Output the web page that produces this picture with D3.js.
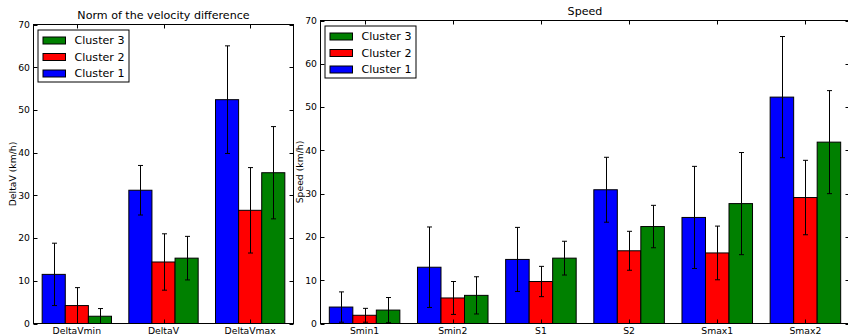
<!DOCTYPE html>
<html>
<head>
<meta charset="utf-8">
<script src="https://cdn.jsdelivr.net/npm/d3@7"></script>
<style>
  html, body { margin: 0; padding: 0; background: #fff; }
  svg { display: block; font-family: "DejaVu Sans", sans-serif; }
</style>
</head>
<body>
<svg id="chart" width="848" height="336"></svg>
<script>
// ---- data ----
const clusterNames = ["Cluster 1", "Cluster 2", "Cluster 3"];
const clusterColors = ["#0000ff", "#ff0000", "#008000"];
const yTicks = [0, 10, 20, 30, 40, 50, 60, 70];

const deltaCategories = ["DeltaVmin", "DeltaV", "DeltaVmax"];
const deltaMean1 = [11.5, 31.2, 52.4];
const deltaMean2 = [4.2, 14.4, 26.5];
const deltaMean3 = [1.7, 15.3, 35.3];
const deltaErr1 = [7.3, 5.8, 12.6];
const deltaErr2 = [4.2, 6.6, 10.0];
const deltaErr3 = [1.8, 5.1, 10.8];

const speedCategories = ["Smin1", "Smin2", "S1", "S2", "Smax1", "Smax2"];
const speedMean1 = [3.8, 13.0, 14.8, 30.9, 24.5, 52.3];
const speedMean2 = [1.9, 5.9, 9.7, 16.8, 16.3, 29.1];
const speedMean3 = [3.1, 6.5, 15.1, 22.4, 27.7, 41.9];
const speedErr1 = [3.5, 9.3, 7.4, 7.5, 11.8, 14.0];
const speedErr2 = [1.6, 3.8, 3.5, 4.5, 6.2, 8.6];
const speedErr3 = [2.9, 4.3, 3.9, 4.9, 11.8, 11.9];

const svg = d3.select("#chart");
const tickFont = 9.25, bigFont = 11.1;

function drawPanel(opts) {
  const { id, left, right, top, bottom, title, ylabel, ylabelX, categories, means, errs } = opts;
  const g = svg.append("g");

  const x = d3.scaleBand().domain(categories).range([left, right]).paddingInner(0).paddingOuter(0);
  const y = d3.scaleLinear().domain([0, 70]).range([bottom, top]);
  const inner = d3.scaleBand().domain(d3.range(means.length))
    .range([-0.4 * x.bandwidth(), 0.4 * x.bandwidth()]);

  // clip to the plotting area
  g.append("clipPath").attr("id", "clip-" + id)
    .append("rect").attr("x", left).attr("y", top)
    .attr("width", right - left).attr("height", bottom - top);
  const plot = g.append("g").attr("clip-path", `url(#clip-${id})`);

  // bars
  means.forEach((vals, s) => {
    plot.append("g").selectAll("rect").data(categories).join("rect")
      .attr("x", c => x(c) + x.bandwidth() / 2 + inner(s))
      .attr("y", (c, i) => y(vals[i]))
      .attr("width", inner.bandwidth())
      .attr("height", (c, i) => y(0) - y(vals[i]))
      .attr("fill", clusterColors[s])
      .attr("stroke", "#000")
      .attr("stroke-width", 1);
  });

  // error bars
  means.forEach((vals, s) => {
    const eg = plot.append("g").attr("stroke", "#000").attr("stroke-width", 1);
    categories.forEach((c, i) => {
      const cx = Math.round(x(c) + x.bandwidth() / 2 + inner(s) + inner.bandwidth() / 2) + 0.5;
      const y1 = y(vals[i] + errs[s][i]);
      const y0 = y(vals[i] - errs[s][i]);
      eg.append("line").attr("x1", cx).attr("x2", cx).attr("y1", y1).attr("y2", y0);
      eg.append("line").attr("x1", cx - 2.5).attr("x2", cx + 2.5).attr("y1", y1).attr("y2", y1);
      eg.append("line").attr("x1", cx - 2.5).attr("x2", cx + 2.5).attr("y1", y0).attr("y2", y0);
    });
  });

  // ticks (inward, on all four sides)
  const tg = g.append("g").attr("stroke", "#000").attr("stroke-width", 1);
  yTicks.forEach(t => {
    const ty = Math.round(y(t)) + 0.5;
    tg.append("line").attr("x1", left).attr("x2", left + 4).attr("y1", ty).attr("y2", ty);
    tg.append("line").attr("x1", right - 4).attr("x2", right).attr("y1", ty).attr("y2", ty);
  });
  categories.forEach(c => {
    const tx = Math.round(x(c) + x.bandwidth() / 2) + 0.5;
    tg.append("line").attr("x1", tx).attr("x2", tx).attr("y1", top).attr("y2", top + 4);
    tg.append("line").attr("x1", tx).attr("x2", tx).attr("y1", bottom - 4).attr("y2", bottom);
  });

  // frame
  g.append("rect").attr("x", left).attr("y", top)
    .attr("width", right - left).attr("height", bottom - top)
    .attr("fill", "none").attr("stroke", "#000").attr("stroke-width", 1);

  // tick labels
  g.append("g").selectAll("text").data(yTicks).join("text")
    .attr("x", left - 3.5).attr("y", d => y(d)).attr("dy", "0.36em")
    .attr("text-anchor", "end").attr("font-size", tickFont).attr("fill", "#000")
    .text(d => d);
  g.append("g").selectAll("text").data(categories).join("text")
    .attr("x", c => x(c) + x.bandwidth() / 2).attr("y", bottom + 10)
    .attr("text-anchor", "middle").attr("font-size", tickFont).attr("fill", "#000")
    .text(c => c);

  // title and axis label
  g.append("text").attr("x", (left + right) / 2).attr("y", top - 6)
    .attr("text-anchor", "middle").attr("font-size", bigFont).text(title);
  g.append("text")
    .attr("transform", `translate(${ylabelX},${(top + bottom) / 2}) rotate(-90)`)
    .attr("text-anchor", "middle").attr("dy", "0.36em")
    .attr("font-size", tickFont).text(ylabel);

  // legend (Cluster 3 on top)
  const lx = left + 4.5, ly = top + 5.5;
  const lg = g.append("g");
  lg.append("rect").attr("x", lx).attr("y", ly).attr("width", 91).attr("height", 52)
    .attr("fill", "#fff").attr("stroke", "#000").attr("stroke-width", 1);
  const order = [2, 1, 0];
  order.forEach((s, k) => {
    const cy = ly + 10.5 + k * 16.5;
    lg.append("rect").attr("x", lx + 5).attr("y", cy - 3.5).attr("width", 22.5).attr("height", 7)
      .attr("fill", clusterColors[s]).attr("stroke", "#000").attr("stroke-width", 1);
    lg.append("text").attr("x", lx + 36.5).attr("y", cy).attr("dy", "0.36em")
      .attr("font-size", bigFont).text(clusterNames[s]);
  });
}

drawPanel({
  id: "delta", left: 33.5, right: 293.5, top: 24.5, bottom: 323.5,
  title: "Norm of the velocity difference", ylabel: "DeltaV (km/h)", ylabelX: 12.5,
  categories: deltaCategories,
  means: [deltaMean1, deltaMean2, deltaMean3],
  errs: [deltaErr1, deltaErr2, deltaErr3]
});

drawPanel({
  id: "speed", left: 320.5, right: 849.5, top: 20.5, bottom: 323.5,
  title: "Speed", ylabel: "Speed (km/h)", ylabelX: 299.5,
  categories: speedCategories,
  means: [speedMean1, speedMean2, speedMean3],
  errs: [speedErr1, speedErr2, speedErr3]
});
</script>
</body>
</html>
